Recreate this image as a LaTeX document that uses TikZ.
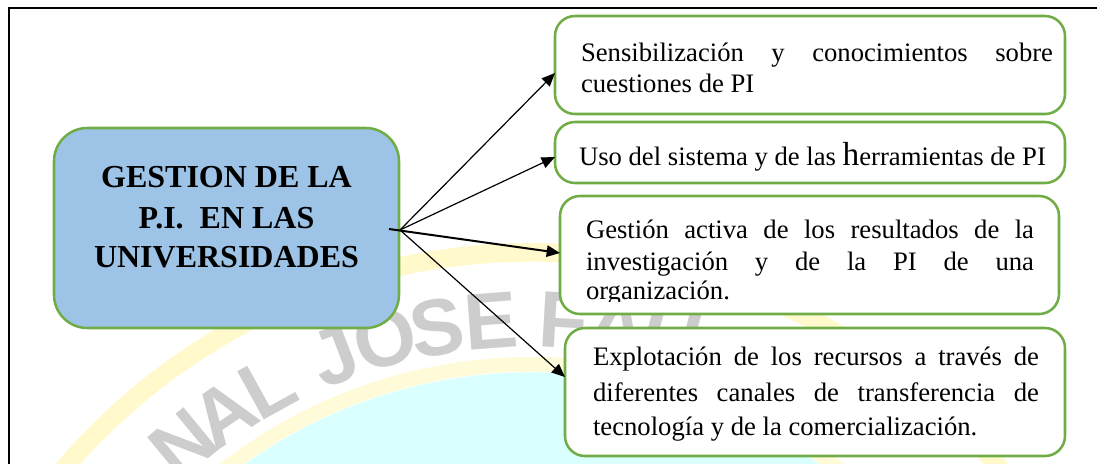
\documentclass[tikz,border=0pt]{standalone}
\usepackage{fontspec}
\setmainfont{Liberation Serif}
\newfontfamily\wmfont{Liberation Sans}
\usetikzlibrary{arrows.meta}
\definecolor{boxgreen}{HTML}{70AD47}
\definecolor{mainblue}{HTML}{9DC3E6}
\definecolor{wmyellow}{HTML}{FFF9CC}
\definecolor{wmyellowb}{HTML}{FFFBD8}
\definecolor{wmcyan}{HTML}{D9FFFF}
\definecolor{wmgray}{HTML}{CDCDCD}
\begin{document}
\begin{tikzpicture}[x=0.75pt,y=-0.75pt,
  mainbox/.style={draw=boxgreen, fill=mainblue, line width=1.9pt, rounded corners=25pt,
    minimum width=258.75pt, minimum height=150pt, inner sep=0pt, outer sep=0pt},
  subbox/.style={draw=boxgreen, fill=white, line width=1.9pt, rounded corners=15pt,
    inner sep=0pt, outer sep=0pt},
  txt/.style={inner sep=0pt, outer sep=0pt, anchor=base west, font=\fontsize{20}{24}\selectfont},
  ttl/.style={inner sep=0pt, outer sep=0pt, anchor=base, font=\bfseries\fontsize{24}{28}\selectfont},
  wm/.style={inner sep=0pt, text=wmgray, font=\wmfont\bfseries\fontsize{60}{60}\selectfont},
  arr/.style={-{Triangle[length=10pt,width=8.5pt]}, line width=0.9pt},
  arrthick/.style={-{Triangle[length=10pt,width=8.5pt]}, line width=1.5pt},
  frame/.style={line width=1.5pt}]
\useasboundingbox (0,0) rectangle (1097,464);
% watermark
\begin{scope}
  \clip (0,0) rectangle (1097,464);
  \fill[wmcyan] (532,867) circle[radius=371pt];
  \draw[wmyellowb, line width=11pt] (532,867) circle[radius=377pt];
  \draw[wmyellow, line width=14pt] (532,867) circle[radius=461pt];
  \foreach \ch/\ang [count=\i] in {N/129.5, A/124.2, L/118.8, J/111.1, O/105.5, S/100.0, E/94.3, F/86.7, A/81.0, U/75.3}
    \node[wm, rotate=\ang-90] (wm\i) at ({532+548*cos(\ang)},{867-548*sin(\ang)}) {\ch};
\end{scope}
% frame
\draw[frame] (8.5,464) -- (8.5,7.5) -- (1097,7.5);
% boxes
\node[mainbox] (main) at (226.5,228) {};
\node[subbox, minimum width=382.5pt, minimum height=73.5pt] (b1) at (810,65) {};
\node[subbox, minimum width=382.5pt, minimum height=45.75pt] (b2) at (810,152.5) {};
\node[subbox, minimum width=374.25pt, minimum height=88.5pt] (b3) at (809.5,255) {};
\node[subbox, minimum width=375pt, minimum height=96pt] (b4) at (815,392) {};
% title
\node[ttl] (ti1) at (226.5,187) {GESTION DE LA};
\node[ttl] (ti2) at (226.5,228) {P.I.\ \ EN LAS};
\node[ttl] (ti3) at (226.5,267) {UNIVERSIDADES};
% texts
\node[txt] (t1a) at (581,61) {\makebox[354pt][s]{Sensibilización y conocimientos sobre}};
\node[txt] (t1b) at (581,92) {cuestiones de PI};
\node[txt] (t2) at (579,165) {Uso del sistema y de las {\fontsize{25}{25}\selectfont h}erramientas de PI};
\node[txt] (t3a) at (586,238) {\makebox[336pt][s]{Gestión activa de los resultados de la}};
\node[txt] (t3b) at (586,270) {\makebox[336pt][s]{investigación y de la PI de una}};
\begin{scope}
  \clip (560,280) rectangle (1060,301);
  \node[txt] (t3c) at (586,299) {organización.};
\end{scope}
\node[txt] (t4a) at (593,365) {\makebox[334.5pt][s]{Explotación de los recursos a través de}};
\node[txt] (t4b) at (593,401) {\makebox[334.5pt][s]{diferentes canales de transferencia de}};
\node[txt] (t4c) at (593,435) {tecnología y de la comercialización.};
% arrows
\coordinate (o) at (400,230);
\coordinate (o3) at (389,229);
\draw[arr] (o) -- ([yshift=-6pt]b1.west);
\draw[arr] (o) -- ([yshift=-3.4pt]b2.west);
\draw[arrthick] (o3) -- ([yshift=1.5pt]b3.west);
\draw[arr] (o) -- ([yshift=11.25pt]b4.west);
\end{tikzpicture}
\end{document}
